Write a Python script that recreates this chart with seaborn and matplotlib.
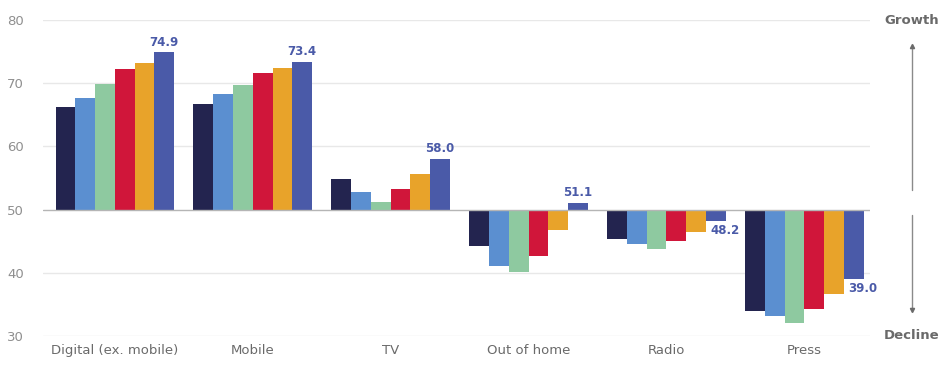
import seaborn as sns
import matplotlib.pyplot as plt
import pandas as pd
import numpy as np

categories = ["Digital (ex. mobile)", "Mobile", "TV", "Out of home", "Radio", "Press"]
series = ["s1", "s2", "s3", "s4", "s5", "s6"]
values = [
    [66.3, 67.7, 69.9, 72.3, 73.2, 74.9],
    [66.7, 68.3, 69.7, 71.6, 72.4, 73.4],
    [54.9, 52.8, 51.2, 53.2, 55.7, 58.0],
    [44.2, 41.0, 40.2, 42.6, 46.8, 51.1],
    [45.4, 44.6, 43.7, 45.1, 46.5, 48.2],
    [34.0, 33.1, 32.0, 34.2, 36.7, 39.0],
]
colors = ["#23244f", "#5b8fd0", "#8ec9a0", "#d0163a", "#e8a32a", "#4a5aa8"]
base = 50
yticks = [30, 40, 50, 60, 70, 80]

rows = []
for cat, vals in zip(categories, values):
    for s, v in zip(series, vals):
        rows.append({"category": cat, "series": s, "value": v, "delta": v - base})
df = pd.DataFrame(rows)

sns.set_style("white")
fig = plt.figure(figsize=(9.39, 3.65), dpi=100)
ax = fig.add_axes([0.046, 0.0795, 0.881, 0.8655])

for t in yticks:
    if t == base:
        continue
    ax.axhline(t - base, color="#e8e8e8", lw=1, zorder=0)

sns.barplot(data=df, x="category", y="delta", hue="series", palette=colors,
            width=0.86, legend=False, ax=ax, saturation=1, zorder=2,
            linewidth=0, edgecolor="none")
ax.axhline(0, color="#b5b5b5", lw=1, zorder=3)

ax.set_xlim(-0.52, 5.48)
ax.set_ylim(yticks[0] - base, yticks[-1] - base)
ax.set_yticks([t - base for t in yticks])
ax.set_yticklabels([str(t) for t in yticks])
ax.tick_params(axis="y", length=0, pad=14, labelcolor="#8f8f8f", labelsize=9.5)
ax.tick_params(axis="x", length=0, pad=6, labelcolor="#6a6a6a", labelsize=9.5)
ax.set_xlabel("")
ax.set_ylabel("")
for sp in ax.spines.values():
    sp.set_visible(False)

# labels on the last series
last = ax.containers[-1]
for bar, vals in zip(last.patches, values):
    v = vals[-1]
    h = bar.get_height()
    if h >= 0:
        ax.text(bar.get_x() + bar.get_width() / 2, h + 0.6, f"{v:.1f}",
                ha="center", va="bottom", color="#4a5aa8", fontsize=8.5, fontweight="bold")
    else:
        ax.text(bar.get_x() + 0.03, h - 0.4, f"{v:.1f}",
                ha="left", va="top", color="#4a5aa8", fontsize=8.5, fontweight="bold")

# growth / decline indicator
fig.text(0.971, 0.945, "Growth", ha="center", va="center", color="#6a6a6a",
         fontsize=9.5, fontweight="bold")
fig.text(0.971, 0.0795, "Decline", ha="center", va="center", color="#6a6a6a",
         fontsize=9.5, fontweight="bold")
fig.add_artist(plt.Line2D([0.971, 0.971], [0.48, 0.875], color="#8a8a8a", lw=1))
fig.add_artist(plt.Line2D([0.971, 0.971], [0.15, 0.41], color="#8a8a8a", lw=1))
fig.add_artist(plt.Line2D([0.971], [0.875], marker="^", ms=3, color="#6a6a6a"))
fig.add_artist(plt.Line2D([0.971], [0.15], marker="v", ms=3, color="#6a6a6a"))

fig.savefig("out.png", dpi=100)
